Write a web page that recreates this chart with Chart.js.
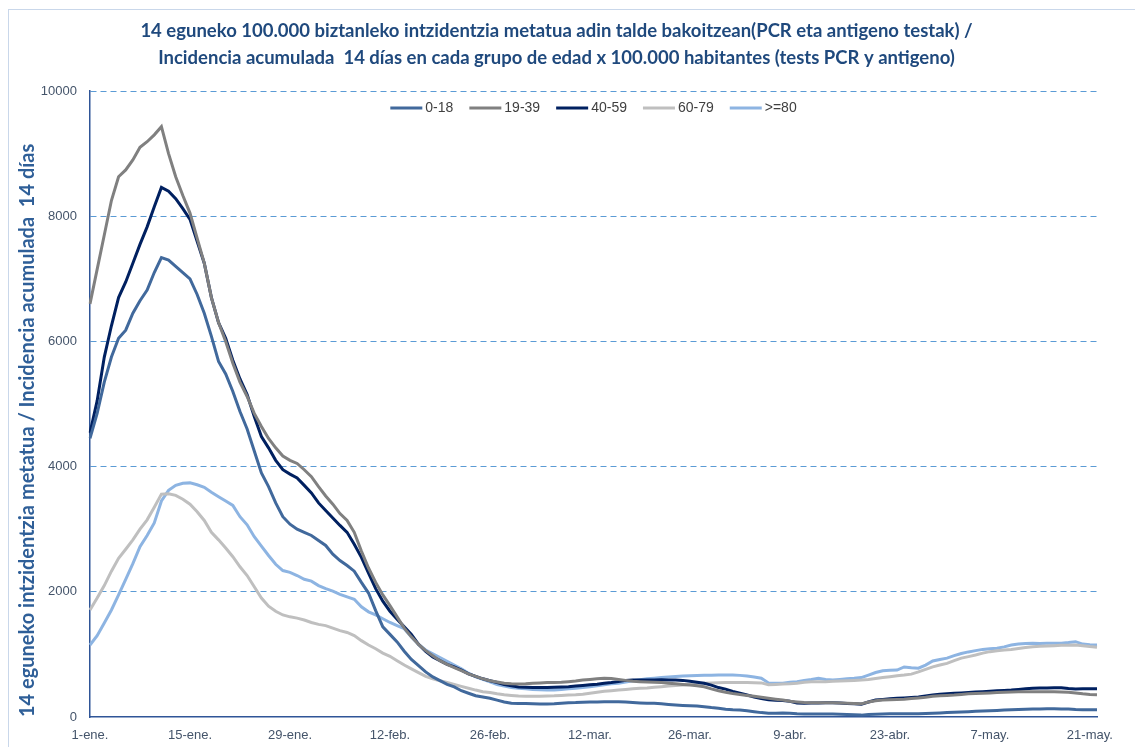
<!DOCTYPE html>
<html>
<head>
<meta charset="utf-8">
<script src="https://cdn.jsdelivr.net/npm/chart.js@4"></script>
<style>
  html, body { margin: 0; padding: 0; background: #fff; }
  #wrap { position: relative; width: 1135px; height: 747px; }
  #frame { position: absolute; left: 8px; top: 9px; width: 1140px; height: 760px;
           border-left: 1px solid #c9d7ea; border-top: 1px solid #c9d7ea; pointer-events: none; }
</style>
</head>
<body>
<div id="wrap">
  <canvas id="myChart" width="1135" height="747"></canvas>
  <div id="frame"></div>
</div>
<script>
// months for the daily categories, 1-ene .. 22-may
var monthNames = ['ene.', 'feb.', 'mar.', 'abr.', 'may.'];
var monthDays = [31, 28, 31, 30, 22];
var tickEvery = 14;
var yTicks = [0, 2000, 4000, 6000, 8000, 10000];

var seriesNames = ['0-18', '19-39', '40-59', '60-79', '>=80'];

var a0018 = [4450,4850,5350,5750,6050,6180,6450,6650,6820,7100,7340,7300,7200,7100,7000,6750,6450,6080,5680,5480,
  5200,4880,4600,4250,3900,3680,3420,3200,3080,3000,2950,2900,2820,2740,2600,2500,2420,2330,2150,1980,
  1700,1440,1320,1200,1050,920,820,720,640,580,520,480,420,380,340,320,300,270,240,220,
  215,215,210,207,207,210,220,228,230,235,238,240,244,244,244,240,232,225,220,218,
  210,200,192,185,180,175,165,150,140,125,115,110,100,85,70,60,60,62,58,50,
  48,47,47,48,48,45,40,35,30,40,45,48,50,50,50,52,52,55,60,65,
  70,75,80,85,90,96,100,105,110,115,120,125,128,128,130,130,128,128,118,115,117,117];

var a1939 = [6600,7150,7700,8250,8630,8740,8900,9100,9190,9300,9430,9000,8630,8330,8050,7650,7250,6700,6300,6000,
  5650,5350,5120,4850,4640,4450,4300,4170,4100,4050,3950,3840,3680,3530,3400,3250,3140,2950,2650,2380,
  2150,1950,1780,1600,1420,1280,1160,1060,980,900,840,790,740,690,650,610,580,560,540,530,
  527,530,540,545,550,552,555,564,575,590,600,610,618,615,600,585,570,565,560,555,
  550,540,530,520,510,500,484,450,420,395,375,360,345,330,315,300,285,270,250,240,
  230,228,228,228,228,225,220,215,210,240,260,270,275,280,285,295,305,315,330,340,
  345,350,360,370,375,380,385,390,395,400,405,405,405,405,405,405,400,395,385,370,360,355];

var a4059 = [4540,5050,5750,6250,6700,6950,7250,7550,7830,8150,8460,8400,8280,8120,7950,7600,7250,6700,6300,6050,
  5700,5400,5150,4800,4480,4300,4100,3950,3880,3820,3700,3580,3420,3300,3180,3060,2950,2760,2550,2300,
  2050,1850,1690,1560,1440,1320,1160,1050,960,900,840,800,750,690,650,610,580,550,520,500,
  480,475,470,470,470,475,480,485,495,505,515,525,538,550,565,585,590,590,590,592,
  595,592,590,585,570,555,538,510,470,445,410,380,352,320,295,275,268,265,250,225,
  218,222,225,228,228,225,215,210,205,240,270,280,290,298,305,312,320,335,350,365,
  372,378,385,392,398,404,410,418,425,431,440,450,458,462,465,468,468,455,447,450,452,452];

var a6079 = [1710,1900,2100,2330,2535,2680,2830,3000,3150,3350,3560,3565,3540,3480,3400,3280,3140,2950,2830,2700,
  2560,2400,2260,2080,1900,1770,1690,1630,1600,1580,1550,1510,1480,1460,1420,1380,1350,1300,1220,1150,
  1090,1020,970,900,830,770,710,650,610,580,550,520,490,460,430,405,390,370,355,345,
  335,332,330,332,335,338,345,350,355,365,380,395,410,420,430,440,450,460,465,474,
  485,495,505,510,520,530,540,545,548,550,550,550,550,548,545,515,520,527,530,540,
  555,562,565,565,570,575,580,585,590,600,615,630,644,660,670,685,720,760,800,830,
  857,900,940,965,990,1020,1044,1060,1070,1080,1095,1110,1123,1130,1135,1140,1145,1148,1150,1140,1125,1113];

var a80 = [1150,1300,1500,1710,1950,2200,2450,2720,2900,3100,3450,3620,3700,3735,3740,3710,3670,3590,3520,3450,
  3380,3200,3070,2880,2730,2580,2440,2340,2310,2260,2200,2170,2100,2050,2010,1960,1920,1880,1760,1680,
  1630,1570,1510,1460,1410,1280,1160,1070,1010,950,890,830,770,700,640,600,560,520,495,470,
  458,450,440,435,432,432,440,450,460,472,485,500,515,530,540,560,580,595,610,620,
  630,640,648,655,660,662,665,668,670,672,672,665,655,640,620,545,540,540,555,565,
  585,600,618,600,592,600,610,618,630,670,710,740,745,750,800,785,780,830,895,920,
  940,980,1015,1040,1060,1080,1090,1097,1120,1150,1165,1175,1177,1175,1177,1178,1180,1190,1203,1165,1155,1150];

var labels = [];
monthNames.forEach(function(m, i) {
  for (var d = 1; d <= monthDays[i]; d++) labels.push(d + '-' + m);
});

var colors = ['#41699c', '#808080', '#002060', '#bfbfbf', '#8db4e2'];
var values = [a0018, a1939, a4059, a6079, a80];

var datasets = seriesNames.map(function(name, i) {
  return {
    label: name,
    data: values[i],
    borderColor: colors[i],
    backgroundColor: colors[i],
    borderWidth: 3,
    pointRadius: 0,
    tension: 0,
    fill: false
  };
});

// legend drawn inside the plot, under the top gridline
var innerLegend = {
  id: 'innerLegend',
  afterDraw: function(chart) {
    var c = chart.ctx, area = chart.chartArea;
    var lineW = 32, gap = 3, spacing = 16;
    c.save();
    c.font = '14px "Liberation Sans"';
    c.textBaseline = 'middle';
    var widths = chart.data.datasets.map(function(ds) {
      return lineW + gap + c.measureText(ds.label).width;
    });
    var total = widths.reduce(function(a, b) { return a + b; }, 0) + spacing * (widths.length - 1);
    var x = (area.left + area.right) / 2 - total / 2;
    var y = area.top + 17;
    chart.data.datasets.forEach(function(ds, i) {
      c.strokeStyle = ds.borderColor;
      c.lineWidth = 3;
      c.beginPath();
      c.moveTo(x, y);
      c.lineTo(x + lineW, y);
      c.stroke();
      c.fillStyle = '#404040';
      c.fillText(ds.label, x + lineW + gap, y);
      x += widths[i] + spacing;
    });
    c.restore();
  }
};

var ctx = document.getElementById('myChart');
var myChart = new Chart(ctx, {
  type: 'line',
  data: { labels: labels, datasets: datasets },
  plugins: [innerLegend],
  options: {
    responsive: false,
    animation: false,
    layout: { padding: { left: 16, right: 38, top: 10, bottom: 0 } },
    plugins: {
      title: {
        display: true,
        text: ['14 eguneko 100.000 biztanleko intzidentzia metatua adin talde bakoitzean(PCR eta antigeno testak) /',
               'Incidencia acumulada  14 días en cada grupo de edad x 100.000 habitantes (tests PCR y antigeno)'],
        color: '#1f497d',
        font: { family: 'Lato', size: 18.5, weight: 'bold', lineHeight: 1.46 },
        padding: { top: 8, bottom: 19 }
      },
      legend: { display: false },
      tooltip: { enabled: false }
    },
    scales: {
      x: {
        type: 'category',
        afterFit: function(scale) { scale.height = 30; },
        grid: { display: false, drawTicks: false, tickLength: 0 },
        border: { display: true, color: '#2f5597', width: 1.5 },
        ticks: {
          autoSkip: false,
          maxRotation: 0,
          padding: 11,
          color: '#44546a',
          font: { family: 'Liberation Sans', size: 13 },
          callback: function(val, idx) {
            return idx % tickEvery === 0 ? labels[idx] : null;
          }
        }
      },
      y: {
        min: yTicks[0],
        max: yTicks[yTicks.length - 1],
        afterFit: function(scale) { scale.width = 74; },
        afterBuildTicks: function(axis) {
          axis.ticks = yTicks.map(function(v) { return { value: v }; });
        },
        grid: {
          color: function(c) { return c.tick && c.tick.value === 0 ? 'rgba(0,0,0,0)' : '#5b9bd5'; },
          lineWidth: 1,
          drawTicks: false,
          tickLength: 0
        },
        border: { display: true, color: '#2f5597', width: 1.5, dash: [6, 4] },
        ticks: {
          padding: 13,
          color: '#44546a',
          font: { family: 'Liberation Sans', size: 13 },
          callback: function(v) { return String(v); }
        },
        title: {
          display: true,
          align: 'start',
          text: '14 eguneko intzidentzia metatua / Incidencia acumulada  14 días',
          color: '#2f5f98',
          font: { family: 'Lato', size: 20, weight: 'bold' },
          padding: { top: 0, bottom: 0 }
        }
      }
    }
  }
});
</script>
</body>
</html>
